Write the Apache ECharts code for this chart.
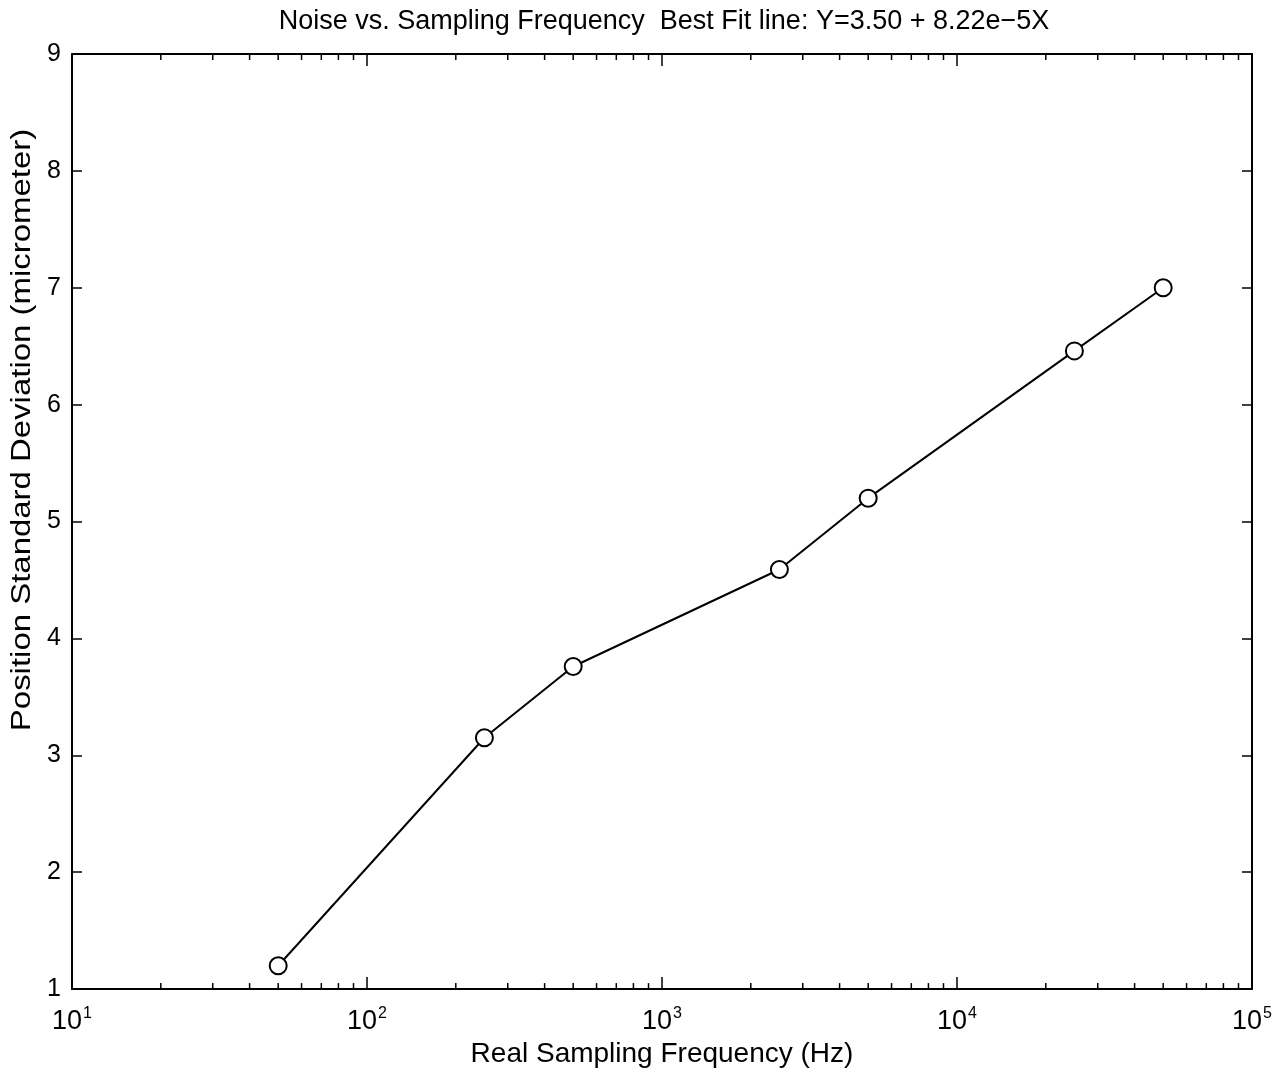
<!DOCTYPE html>
<html>
<head>
<meta charset="utf-8">
<script src="https://cdn.jsdelivr.net/npm/echarts@6/dist/echarts.min.js"></script>
<style>html,body{margin:0;padding:0;background:#fff;}#c{width:1285px;height:1073px;}</style>
</head>
<body>
<div id="c"></div>
<script>
var titleText = 'Noise vs. Sampling Frequency  Best Fit line: Y=3.50 + 8.22e\u22125X';
var xLabel = 'Real Sampling Frequency (Hz)';
var yLabel = 'Position Standard Deviation (micrometer)';
var freq = [50, 250, 500, 2500, 5000, 25000, 50000];
var stdDev = [1.2, 3.15, 3.76, 4.59, 5.2, 6.46, 7.0];
var yTicks = [1, 2, 3, 4, 5, 6, 7, 8, 9];
var minorTicks = [20,30,40,50,60,70,80,90,200,300,400,500,600,700,800,900,2000,3000,4000,5000,6000,7000,8000,9000,20000,30000,40000,50000,60000,70000,80000,90000];

var chart = echarts.init(document.getElementById('c'));
var font = '"Liberation Sans", Arial, sans-serif';
var axisLine = {show: true, lineStyle: {color: '#000', width: 2}};
var xAxisBase = {
  type: 'log', logBase: 10, min: 10, max: 100000,
  axisLine: axisLine,
  axisTick: {show: true, inside: true, length: 12, lineStyle: {color: '#000', width: 1.5}},
  splitLine: {show: false}
};
var yAxisBase = {
  type: 'value', min: 1, max: 9, interval: 1,
  axisLine: axisLine,
  axisTick: {show: true, inside: true, length: 10, lineStyle: {color: '#000', width: 1.5}},
  splitLine: {show: false}
};
chart.setOption({
  animation: false,
  backgroundColor: '#fff',
  title: {text: titleText, left: 659, top: 3, textAlign: 'center',
    textStyle: {fontFamily: font, fontSize: 27, fontWeight: 'normal', color: '#000'}},
  graphic: [{
    type: 'text', x: 23, y: 430, rotation: Math.PI / 2, scaleX: 1.22,
    style: {text: yLabel, fontFamily: font, fontSize: 27, fill: '#000',
      textAlign: 'center', textVerticalAlign: 'middle'}
  }],
  grid: {left: 72, right: 33, top: 54, bottom: 83},
  xAxis: [
    Object.assign({}, xAxisBase, {
      position: 'bottom',
      name: xLabel, nameLocation: 'middle', nameGap: 44,
      nameTextStyle: {fontFamily: font, fontSize: 28, color: '#000'},
      axisLabel: {
        margin: 16, color: '#000', fontFamily: font,
        formatter: function (v) {
          var e = Math.round(Math.log10(v));
          return '{b|10}{s|' + e + '}';
        },
        rich: {
          b: {fontSize: 27, fontFamily: font, color: '#000', verticalAlign: 'bottom'},
          s: {fontSize: 16, fontFamily: font, color: '#000', verticalAlign: 'top', padding: [0, 0, 14, 1]}
        }
      }
    }),
    Object.assign({}, xAxisBase, {position: 'top', axisLabel: {show: false}})
  ],
  yAxis: [
    Object.assign({}, yAxisBase, {
      position: 'left',
      axisLabel: {margin: 11, color: '#000', fontFamily: font, fontSize: 25,
        formatter: function (v) { return yTicks.indexOf(v) >= 0 ? String(v) : ''; }}
    }),
    Object.assign({}, yAxisBase, {position: 'right', axisLabel: {show: false}})
  ],
  series: [
    {
      type: 'line', xAxisIndex: 0, yAxisIndex: 0,
      data: freq.map(function (f, i) { return [f, stdDev[i]]; }),
      symbol: 'circle', symbolSize: 17,
      itemStyle: {color: '#fff', borderColor: '#000', borderWidth: 2},
      lineStyle: {color: '#000', width: 2},
      z: 5
    },
    {
      type: 'custom', xAxisIndex: 0, yAxisIndex: 0,
      data: minorTicks.map(function (v) { return [v, 1]; }),
      renderItem: function (params, api) {
        var x = api.coord([api.value(0), 1])[0];
        var cs = params.coordSys;
        var yb = cs.y + cs.height, yt = cs.y;
        var st = {stroke: '#000', lineWidth: 1.5};
        return {type: 'group', children: [
          {type: 'line', shape: {x1: x, y1: yb, x2: x, y2: yb - 6}, style: st},
          {type: 'line', shape: {x1: x, y1: yt, x2: x, y2: yt + 6}, style: st}
        ]};
      },
      silent: true
    }
  ]
});
</script>
</body>
</html>
